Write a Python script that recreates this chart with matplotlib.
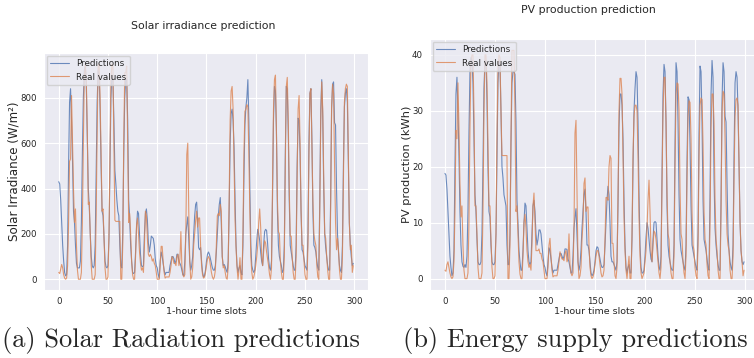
import numpy as np
import matplotlib
matplotlib.use("Agg")
import matplotlib.pyplot as plt
import seaborn as sns

# hourly solar irradiance (W/m2)
irr_pred = [430, 420, 350, 250, 150, 80, 30, 15, 20, 150, 500, 780, 840, 700, 520, 300, 250, 150, 70, 50, 50,
            50, 80, 250, 550, 800, 920, 940, 850, 620, 400, 320, 200, 100, 60,
            50, 60, 150, 450, 780, 920, 900, 750, 500, 300, 280, 180, 80, 55, 50,
            60, 180, 500, 800, 900, 880, 700, 480, 420, 350, 300, 280, 150, 60, 50,
            200, 550, 800, 880, 880, 700, 350, 270, 150, 80, 30, 25, 30,
            120, 230, 300, 290, 200, 110, 60, 55, 60,
            200, 290, 310, 260, 160, 120, 150, 190, 185, 180, 150, 90, 60, 50, 20, 5,
            80, 120, 100, 70, 40, 20, 30, 30, 30, 30,
            60, 80, 100, 100, 90, 70, 80, 110, 110, 80, 70, 60, 40, 20, 15,
            80, 200, 240, 275, 180, 80, 40, 60,
            100, 200, 280, 330, 340, 260, 140, 130, 140, 80, 30, 10, 15,
            40, 80, 110, 120, 110, 90, 70, 50, 40, 40, 60,
            120, 200, 280, 330, 360, 250, 100, 60, 65, 55, 40, 30,
            80, 300, 600, 730, 750, 700, 580, 350, 150, 60, 30, 50, 60, 30, 20,
            150, 450, 680, 760, 800, 880, 700, 400, 150, 60, 40, 30,
            40, 100, 170, 220, 200, 170, 120, 80, 60,
            150, 210, 220, 215, 160, 90, 50, 40,
            80, 350, 700, 850, 830, 650, 300, 150, 100, 80, 60, 30, 40,
            150, 550, 850, 840, 650, 350, 150, 120, 90, 60, 40, 40,
            150, 500, 710, 700, 550, 300, 130, 120, 90, 60, 50, 40,
            200, 600, 820, 840, 620, 300, 150, 140, 120, 80, 50, 40,
            350, 750, 880, 720, 400, 200, 140, 100, 60, 40, 40,
            350, 750, 860, 870, 690, 680, 400, 200, 120, 60, 40, 30,
            150, 500, 760, 820, 840, 780, 500, 250, 150, 100, 60, 70]
irr_real = [30, 25, 45, 65, 50, 20, 5, 0, 5, 60, 250, 520, 530, 810, 600, 400, 250, 310, 150, 40, 0,
            0, 0, 30, 250, 600, 900, 950, 880, 650, 330, 340, 200, 60, 0,
            0, 0, 20, 280, 650, 940, 950, 800, 550, 300, 310, 180, 50, 0, 0,
            10, 200, 550, 880, 950, 940, 600, 260, 255, 255, 255, 255, 255, 0, 0,
            150, 600, 910, 910, 940, 600, 250, 290, 200, 80, 20, 0, 0,
            100, 240, 270, 200, 120, 70, 40, 50, 30,
            150, 300, 280, 180, 110, 100, 110, 100, 80, 90, 70, 60, 30, 0, 0, 0,
            60, 145, 145, 80, 30, 5, 10, 10, 10, 10,
            30, 60, 100, 90, 70, 70, 60, 100, 110, 60, 90, 210, 60, 20, 10,
            20, 200, 550, 600, 300, 80, 0, 10,
            50, 150, 200, 260, 300, 230, 270, 270, 150, 60, 20, 5, 10,
            30, 60, 90, 100, 90, 60, 30, 10, 0, 10, 40,
            150, 280, 290, 280, 330, 300, 100, 50, 60, 30, 5, 0,
            50, 350, 700, 830, 850, 750, 500, 260, 140, 50, 0, 40, 95, 0, 0,
            200, 550, 740, 750, 770, 760, 550, 300, 100, 30, 0, 10,
            30, 60, 100, 150, 250, 310, 230, 100, 60,
            120, 170, 160, 120, 90, 60, 20, 0,
            50, 400, 750, 880, 900, 650, 350, 210, 200, 80, 30, 0, 0,
            100, 500, 850, 890, 700, 400, 190, 190, 100, 30, 0, 0,
            100, 450, 750, 810, 600, 300, 150, 150, 80, 20, 0, 0,
            150, 550, 820, 840, 600, 350, 200, 170, 150, 60, 10, 0,
            300, 700, 870, 750, 450, 200, 180, 100, 40, 0, 0,
            300, 760, 860, 820, 500, 250, 130, 180, 130, 40, 0, 0,
            100, 450, 780, 840, 860, 850, 550, 250, 130, 150, 30, 60]

# hourly PV production (kWh)
pv_pred = [18.8, 18.5, 16, 12, 8, 4, 2, 0.5, 1, 5, 20, 33, 36, 30, 22, 12, 6, 3, 2.2, 2, 2.5,
           2, 4, 12, 26, 37, 39.5, 39, 35, 25, 15, 12, 7, 3, 2.5,
           2.5, 3, 8, 20, 34, 39, 39, 32, 20, 12, 11, 6, 3, 2.5, 2.5,
           3, 8, 22, 35, 39, 38.5, 30, 20, 18, 15, 14, 13, 6, 2.5, 2.5,
           8, 24, 35, 37, 37, 36.5, 28, 14, 10, 5, 3, 1.5, 1.5,
           5, 10, 13.5, 13, 9, 5, 3, 2.5, 3,
           8, 13, 14, 12, 8, 6, 7, 8.7, 8.7, 8, 6, 4, 2.5, 2, 1, 0.5,
           3, 5.5, 5, 3.5, 2, 1, 1.5, 1.5, 1.5, 1.5,
           2.5, 3.5, 4.5, 4.5, 4, 3.5, 4, 5.3, 5.3, 5.2, 3.5, 3, 2, 1, 1,
           4, 9, 11, 12.5, 8, 3, 1.5, 2.5,
           5, 9, 12, 15, 16, 12, 6, 6, 5, 3, 1, 0.5, 0.8,
           1.5, 3, 5, 5.7, 5.5, 4.5, 3.5, 2.5, 2, 2, 2.5,
           6, 10, 14, 16.5, 15, 10, 4, 3, 3, 2.5, 2, 1.5,
           3, 13, 27, 33, 33, 31, 25, 14, 6, 2, 1, 2, 2.5, 1, 1,
           7, 20, 30, 34, 37, 36, 28, 15, 6, 2, 1, 1,
           1.5, 4, 7.5, 10, 9, 7, 5, 3.5, 3,
           7, 10, 10.2, 10, 7, 4, 2, 1.5,
           4, 18, 33, 38.3, 37, 28, 13, 6, 4, 3, 2, 1.5, 1.5,
           6, 24, 38.6, 37, 28, 15, 7, 5, 4, 3, 2, 1.5,
           6, 21, 32.5, 32, 24, 13, 6, 5, 4, 3, 2, 1.5,
           8, 26, 38, 37, 28, 14, 7, 6, 5, 3.5, 2, 1.5,
           15, 33, 39, 36, 18, 9, 6, 4, 2.5, 1.5, 1.5,
           14, 32, 38.6, 37, 29, 28, 17, 8, 5, 3, 2, 1.5,
           6, 22, 35, 37, 36, 30, 20, 10, 5, 3, 2.5, 3]
pv_real = [1.5, 1.3, 2.5, 3.0, 2.0, 1.0, 0.3, 0, 0.3, 3, 12, 26.5, 25, 35, 27, 17, 11, 13, 6, 1.5, 0,
           0, 0, 1, 10, 27, 39, 40, 40, 30, 13, 13, 8, 2, 0,
           0, 0, 1, 12, 30, 40, 40, 35, 24, 13, 13, 7, 2, 0, 0,
           0.5, 8, 25, 38, 40, 39.5, 30, 22, 22, 22, 22, 22, 22, 0, 0,
           6, 25, 40.8, 40.8, 40.8, 30, 12, 13, 8, 3, 0.8, 0, 0,
           4, 10, 11.5, 9, 5, 3, 2, 2.5, 1.5,
           6, 13, 15.3, 10, 5, 5, 5, 5.3, 4.5, 4.5, 3.5, 3, 1.5, 0, 0, 0,
           2, 6, 7.2, 4, 1.5, 0.3, 0.5, 0.5, 0.5, 0.5,
           1.5, 3, 4.8, 4, 3.5, 3.5, 3.2, 4.5, 5, 3, 3.5, 8, 2.5, 1, 0.5,
           1, 9, 26, 28.3, 15, 3, 0, 0.5,
           2, 7, 10, 17, 18, 12, 12.8, 12.8, 6, 2, 0.5, 0, 0.3,
           1, 2.5, 4, 5, 5, 4, 2.5, 1, 0.3, 0.5, 1.5,
           7, 14.5, 14.5, 14, 20, 22, 21.5, 6.3, 6.3, 3, 0.5, 0,
           2, 15, 30, 35.8, 35.8, 33, 22, 11, 5, 1.5, 0, 2, 4, 0, 0,
           8, 22, 29, 31, 31, 30, 22, 11, 4, 1, 0, 0.5,
           1, 3, 5, 9, 14, 17.6, 12, 5, 3,
           6, 8.5, 8.2, 7, 5, 3, 1, 0,
           2, 17, 30, 36, 36, 28, 15, 8, 7, 3, 1, 0, 0,
           4, 20, 33, 35, 34.8, 30, 16, 8, 7, 3, 1, 0,
           4, 18, 29, 31.8, 31.5, 25, 12, 6, 5, 2, 0.5, 0,
           6, 22, 31, 32.3, 32, 24, 12, 7, 6, 2.5, 0.5, 0,
           10, 27, 33, 33, 28, 14, 7, 5, 1.5, 0, 0,
           12, 30, 33.5, 33, 25, 14, 8, 6, 5, 1.5, 0, 0,
           4, 18, 29, 32, 32.3, 31, 20, 10, 5, 3, 0.5, 1.5]

sns.set_style("darkgrid")
plt.rcParams['font.family'] = ['DejaVu Sans']

W, H = 754, 358
fig = plt.figure(figsize=(W / 100, H / 100), dpi=100)

ax1 = fig.add_axes([44 / W, 1 - 290 / H, 324 / W, 237 / H])
ax2 = fig.add_axes([430 / W, 1 - 290 / H, 329 / W, 251 / H])

panels = [
    (ax1, irr_pred, irr_real, "Solar Irradiance (W/m²)", 8.6),
    (ax2, pv_pred, pv_real, "PV production (kWh)", 8.2),
]
for ax, pred, real, ylab, yfs in panels:
    ax.plot(np.arange(len(pred)), pred, color='#4c72b0', lw=0.8, alpha=0.8, label='Predictions')
    ax.plot(np.arange(len(real)), real, color='#dd8452', lw=0.8, alpha=0.8, label='Real values')
    ax.set_xticks([0, 50, 100, 150, 200, 250, 300])
    ax.tick_params(labelsize=6.2, pad=1.5)
    ax.set_xlabel("1-hour time slots", fontsize=6.8, labelpad=1)
    ax.set_ylabel(ylab, fontsize=yfs, labelpad=0)
    ax.legend(loc='upper left', fontsize=6.3, borderaxespad=0.3, handlelength=2.2)

ax1.set_yticks([0, 200, 400, 600, 800])
ax2.set_yticks([0, 10, 20, 30, 40])

fig.text(203 / W, 1 - 26 / H, "Solar irradiance prediction", fontsize=7.8,
         ha='center', va='center', color='#262626')
fig.text(588 / W, 1 - 10 / H, "PV production prediction", fontsize=7.8,
         ha='center', va='center', color='#262626')

fig.text(181 / W, 1 - 340 / H, "(a) Solar Radiation predictions", fontsize=19,
         family='cmr10', ha='center', va='center')
fig.text(575 / W, 1 - 340 / H, "(b) Energy supply predictions", fontsize=19,
         family='cmr10', ha='center', va='center')

fig.savefig("out.png", dpi=100)
